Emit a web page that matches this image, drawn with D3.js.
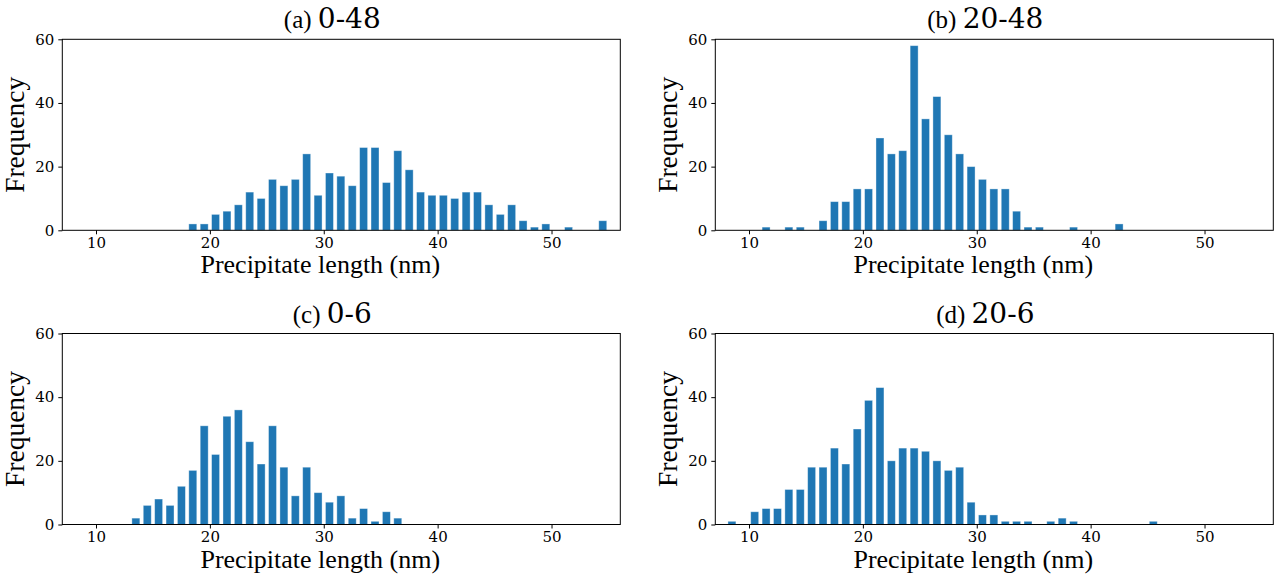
<!DOCTYPE html>
<style>
body { margin: 0; background: #fff; }
.tick text { font-family: "DejaVu Serif"; font-size: 15px; fill: #000; }
.tick line { stroke: #000; }
.axis .domain { display: none; }
.xlbl { font-family: "Liberation Serif"; font-size: 26px; fill: #000; }
.ylbl { font-family: "Liberation Serif"; font-size: 27.5px; fill: #000; }
</style>
<svg width="1286" height="579"></svg>
<script src="https://d3js.org/d3.v7.min.js"></script>
<script>
// histogram counts, 1 nm bins, first bin left edge given by start*
var startA = 18;
var countsA = [2,2,5,6,8,12,10,16,14,16,24,11,18,17,14,26,26,15,25,19,12,11,11,10,12,12,8,5,8,3,1,2,0,1,0,0,3];
var startB = 11;
var countsB = [1,0,1,1,0,3,9,9,13,13,29,24,25,58,35,42,30,24,20,16,13,13,6,1,1,0,0,1,0,0,0,2];
var startC = 13;
var countsC = [2,6,8,6,12,17,31,22,34,36,26,19,31,18,9,18,10,7,9,2,5,1,4,2];
var startD = 8;
var countsD = [1,0,4,5,5,11,11,18,18,24,19,30,39,43,20,24,24,23,20,17,18,7,3,3,1,1,1,0,1,2,1,0,0,0,0,0,0,1];

var titleTags = ["(a)", "(b)", "(c)", "(d)"];
var titleNames = ["0-48", "20-48", "0-6", "20-6"];
var xTicks = [10, 20, 30, 40, 50];
var yTicks = [0, 20, 40, 60];

var panels = [
  {start: startA, counts: countsA, left: 62.3, top: 39.3},
  {start: startB, counts: countsB, left: 715.3, top: 39.3},
  {start: startC, counts: countsC, left: 62.3, top: 333.5},
  {start: startD, counts: countsD, left: 715.3, top: 333.5}
];

var svg = d3.select("svg");
var w = 558, h = 191;
var rwidth = 0.7;

var x = d3.scaleLinear().domain([7.04, 56.04]).range([0, w]);
var y = d3.scaleLinear().domain([0, 60]).range([h, 0]);

panels.forEach(function(p, k) {
  var g = svg.append("g").attr("transform", "translate(" + p.left + "," + p.top + ")");
  var bins = p.counts.map(function(c, i) { return {x0: p.start + i, n: c}; })
    .filter(function(d) { return d.n > 0; });

  g.selectAll("rect.bar")
    .data(bins)
    .enter().append("rect")
      .attr("class", "bar")
      .attr("x", function(d) { return x(d.x0 + (1 - rwidth) / 2); })
      .attr("y", function(d) { return y(d.n); })
      .attr("width", x(rwidth) - x(0))
      .attr("height", function(d) { return y(0) - y(d.n); })
      .attr("fill", "#1f77b4")
      .attr("stroke", "#ffffff")
      .attr("stroke-opacity", 0.45)
      .attr("stroke-width", 0.8);

  g.append("g")
    .attr("class", "axis")
    .attr("transform", "translate(0," + h + ")")
    .call(d3.axisBottom(x).tickValues(xTicks).tickSize(4).tickPadding(3));

  g.append("g")
    .attr("class", "axis")
    .call(d3.axisLeft(y).tickValues(yTicks).tickSize(4).tickPadding(4));

  g.append("rect")
    .attr("width", w).attr("height", h)
    .attr("fill", "none").attr("stroke", "#000").attr("stroke-width", 1);

  var t = g.append("text")
    .attr("x", w / 2 - 9)
    .attr("y", -11)
    .attr("text-anchor", "middle");
  t.append("tspan").attr("font-family", "Liberation Serif").attr("font-size", "25px").text(titleTags[k] + "  ");
  t.append("tspan").attr("font-family", "DejaVu Serif").attr("font-size", "28px").text(titleNames[k]);

  g.append("text")
    .attr("class", "xlbl")
    .attr("x", w / 2 - 21)
    .attr("y", h + 43)
    .attr("text-anchor", "middle")
    .text("Precipitate length (nm)");

  g.append("text")
    .attr("class", "ylbl")
    .attr("transform", "translate(-38.6," + (h / 2) + ") rotate(-90)")
    .attr("text-anchor", "middle")
    .text("Frequency");
});
</script>
